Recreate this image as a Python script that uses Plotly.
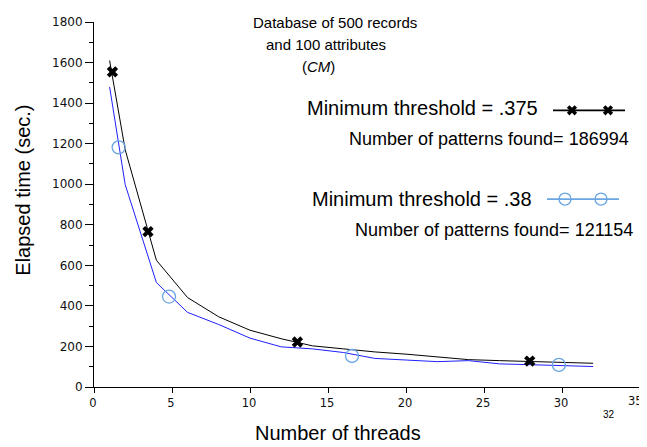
import plotly.graph_objects as go

# ---- data ----
threads = [1, 2, 4, 6, 8, 10, 12, 14, 16, 18, 20, 22, 24, 26, 28, 30, 32]
time_375 = [1610, 1170, 625, 441, 346, 280, 238, 203, 188, 173, 162, 147, 135, 130, 125, 121, 117]
time_38 = [1480, 998, 515, 368, 308, 241, 198, 188, 170, 141, 133, 125, 130, 114, 110, 105, 101]

marker_x_375 = [1.18, 3.46, 13.04, 27.93]
marker_y_375 = [1554, 766, 222, 128]
marker_x_38 = [1.58, 4.81, 16.54, 29.8]
marker_y_38 = [1182, 446, 153, 109]

x_tick_vals = [0, 5, 10, 15, 20, 25, 30, 35]
x_tick_text = ["0", "5", "10", "15", "20", "25", "30", ""]
x_last_label = "35"
y_tick_vals = [0, 200, 400, 600, 800, 1000, 1200, 1400, 1600, 1800]

name_375 = "Minimum threshold = .375"
name_38 = "Minimum threshold = .38"
found_375 = "Number of patterns found= 186994"
found_38 = "Number of patterns found= 121154"
title_lines = ["Database of 500 records", "and 100 attributes", "(<i>CM</i>)"]

# ---- layout geometry (page pixels; the page body has an 8px margin) ----
OFF = 8
PAGE_W, PAGE_H = 647, 447
AX_LEFT, AX_RIGHT, AX_TOP, AX_BOTTOM = 94, 640, 17, 387
W, H = PAGE_W - OFF, PAGE_H - OFF
L = AX_LEFT - OFF
T = AX_TOP - OFF
R = W - (AX_RIGHT - OFF)
B = H - (AX_BOTTOM - OFF)
PW, PH = AX_RIGHT - AX_LEFT, AX_BOTTOM - AX_TOP


def px(x):
    return (x - AX_LEFT) / PW


def py(y):
    return (AX_BOTTOM - y) / PH


BLACK = "#000000"
BLUE_LINE = "#1f1fff"
LIGHT_BLUE = "#6aa6e2"
ARIAL = "Liberation Sans, Arial, sans-serif"

fig = go.Figure()

fig.add_trace(go.Scatter(x=threads, y=time_375, mode="lines",
                         line=dict(color=BLACK, width=1), showlegend=False))
fig.add_trace(go.Scatter(x=threads, y=time_38, mode="lines",
                         line=dict(color=BLUE_LINE, width=1), showlegend=False))
fig.add_trace(go.Scatter(x=marker_x_375, y=marker_y_375, mode="markers",
                         marker=dict(symbol="x", size=10, color=BLACK, line=dict(width=0)),
                         showlegend=False))
fig.add_trace(go.Scatter(x=marker_x_38, y=marker_y_38, mode="markers",
                         marker=dict(symbol="circle-open", size=13, color=LIGHT_BLUE,
                                     line=dict(width=1.3, color=LIGHT_BLUE)),
                         showlegend=False))

# legend key samples on an overlay axis measured in page pixels
fig.add_trace(go.Scatter(x=[553, 625], y=[106.5, 106.5], mode="lines",
                         line=dict(color=BLACK, width=1.8), xaxis="x2", yaxis="y2",
                         showlegend=False, cliponaxis=False))
fig.add_trace(go.Scatter(x=[572, 608], y=[106.5, 106.5], mode="markers",
                         marker=dict(symbol="x", size=9, color=BLACK, line=dict(width=0)),
                         xaxis="x2", yaxis="y2", showlegend=False, cliponaxis=False))
fig.add_trace(go.Scatter(x=[547, 619], y=[196.5, 196.5], mode="lines",
                         line=dict(color=LIGHT_BLUE, width=1.8), xaxis="x2", yaxis="y2",
                         showlegend=False, cliponaxis=False))
fig.add_trace(go.Scatter(x=[565, 601], y=[196.5, 196.5], mode="markers",
                         marker=dict(symbol="circle-open", size=12, color=LIGHT_BLUE,
                                     line=dict(width=1.3, color=LIGHT_BLUE)),
                         xaxis="x2", yaxis="y2", showlegend=False, cliponaxis=False))

annotations = []


def add_text(text, x, y, size, angle=0, family=ARIAL, color=BLACK, xanchor="center"):
    annotations.append(dict(text=text, x=px(x), y=py(y), xref="paper", yref="paper",
                            xanchor=xanchor, yanchor="middle",
                            showarrow=False, textangle=angle,
                            font=dict(family=family, size=size, color=color)))


add_text(title_lines[0], 335, 17, 15)
add_text(title_lines[1], 326, 40, 15)
add_text(title_lines[2], 318, 62.5, 15)
add_text(name_375, 422, 104, 20)
add_text(found_375, 489, 136, 18)
add_text(name_38, 422, 196.5, 20)
add_text(found_38, 494.5, 227.5, 18)
add_text("Number of threads", 338, 434, 20)
add_text("Elapsed time (sec.)", 23, 188, 20, angle=-90)
add_text("32", 609, 415, 10)
add_text(x_last_label, 645, 401.5, 11.5, family="DejaVu Sans", color="#111", xanchor="right")

fig.update_layout(
    width=W, height=H,
    margin=dict(l=L, r=R, t=T, b=B, pad=0),
    paper_bgcolor="white", plot_bgcolor="white",
    annotations=annotations,
    xaxis=dict(range=[0, 35], tickvals=x_tick_vals, ticktext=x_tick_text,
               showgrid=False, zeroline=False,
               showline=True, linecolor=BLACK, linewidth=1, ticks="outside",
               ticklen=5, tickcolor=BLACK, tickwidth=1,
               ticklabelshift=-1,
               tickfont=dict(family="DejaVu Sans", size=11.5, color="#111")),
    yaxis=dict(range=[0, 1800], tickvals=y_tick_vals, showgrid=False, zeroline=False,
               showline=True, linecolor=BLACK, linewidth=1, ticks="outside",
               ticklen=8, tickcolor=BLACK, tickwidth=1,
               minor=dict(dtick=100, ticks="outside", ticklen=4, tickcolor=BLACK, showgrid=False),
               tickfont=dict(family="DejaVu Sans", size=12, color="#111")),
    xaxis2=dict(range=[AX_LEFT, AX_RIGHT], overlaying="x", visible=False, fixedrange=True),
    yaxis2=dict(range=[AX_BOTTOM, AX_TOP], overlaying="y", visible=False, fixedrange=True),
)

fig.write_html("out.html")
